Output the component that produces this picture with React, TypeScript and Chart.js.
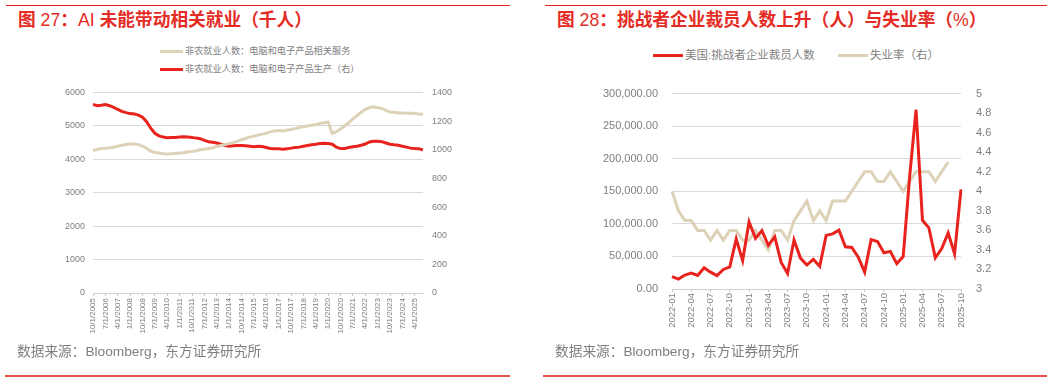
import React, { useEffect, useRef } from 'react';
import { Chart, registerables } from 'chart.js';

Chart.register(...registerables);

const NUM_FONT = "'Liberation Sans', Arial, 'Noto Sans CJK SC', sans-serif";
const CJK_FONT = "'Liberation Sans', 'Noto Sans CJK SC', sans-serif";
const RED = '#e8231e';
const BEIGE = '#ddd2b8';
const GRID = '#d9d9d9';
const TICK = '#7f7f7f';
const TITLE_RED = '#e42c25';

// ---------- Figure 27 ----------
const leftDates = [
  '10/1/2005',
  '1/1/2006', '4/1/2006', '7/1/2006', '10/1/2006',
  '1/1/2007', '4/1/2007', '7/1/2007', '10/1/2007',
  '1/1/2008', '4/1/2008', '7/1/2008', '10/1/2008',
  '1/1/2009', '4/1/2009', '7/1/2009', '10/1/2009',
  '1/1/2010', '4/1/2010', '7/1/2010', '10/1/2010',
  '1/1/2011', '4/1/2011', '7/1/2011', '10/1/2011',
  '1/1/2012', '4/1/2012', '7/1/2012', '10/1/2012',
  '1/1/2013', '4/1/2013', '7/1/2013', '10/1/2013',
  '1/1/2014', '4/1/2014', '7/1/2014', '10/1/2014',
  '1/1/2015', '4/1/2015', '7/1/2015', '10/1/2015',
  '1/1/2016', '4/1/2016', '7/1/2016', '10/1/2016',
  '1/1/2017', '4/1/2017', '7/1/2017', '10/1/2017',
  '1/1/2018', '4/1/2018', '7/1/2018', '10/1/2018',
  '1/1/2019', '4/1/2019', '7/1/2019', '10/1/2019',
  '1/1/2020', '4/1/2020', '7/1/2020', '10/1/2020',
  '1/1/2021', '4/1/2021', '7/1/2021', '10/1/2021',
  '1/1/2022', '4/1/2022', '7/1/2022', '10/1/2022',
  '1/1/2023', '4/1/2023', '7/1/2023', '10/1/2023',
  '1/1/2024', '4/1/2024', '7/1/2024', '10/1/2024',
  '1/1/2025', '4/1/2025', '7/1/2025', '10/1/2025',
];

const computerServices = [
  4263, 4293, 4322, 4332, 4341, 4361, 4390, 4420, 4439, 4458,
  4458, 4439, 4390, 4322, 4244, 4205, 4185, 4166, 4156, 4166,
  4176, 4185, 4195, 4224, 4234, 4254, 4283, 4302, 4322, 4341,
  4380, 4410, 4439, 4468, 4498, 4537, 4585, 4624, 4663, 4693,
  4722, 4751, 4780, 4820, 4849, 4859, 4849, 4868, 4888, 4917,
  4946, 4976, 4995, 5015, 5034, 5073, 5093, 5112, 4780, 4829,
  4907, 4995, 5093, 5210, 5307, 5405, 5493, 5541, 5571, 5541,
  5522, 5463, 5415, 5405, 5385, 5385, 5376, 5376, 5366, 5356,
  5337,
];

const computerManufacturing = [
  1316, 1307, 1311, 1316, 1307, 1295, 1282, 1268, 1259, 1252,
  1250, 1241, 1227, 1195, 1150, 1115, 1097, 1088, 1084, 1086,
  1086, 1088, 1090, 1088, 1086, 1081, 1077, 1065, 1056, 1052,
  1047, 1038, 1029, 1024, 1027, 1029, 1029, 1027, 1024, 1020,
  1024, 1022, 1015, 1008, 1006, 1006, 1004, 1006, 1011, 1015,
  1018, 1024, 1029, 1034, 1038, 1043, 1045, 1043, 1038, 1018,
  1008, 1008, 1015, 1020, 1024, 1031, 1040, 1054, 1059, 1059,
  1056, 1047, 1038, 1034, 1031, 1024, 1018, 1011, 1008, 1006,
  999,
];

const leftSeriesNames = [
  '非农就业人数：电脑和电子产品相关服务',
  '非农就业人数：电脑和电子产品生产（右）',
];

// ---------- Figure 28 ----------
const rightMonths = [
  '2022-01', '2022-02', '2022-03', '2022-04', '2022-05', '2022-06',
  '2022-07', '2022-08', '2022-09', '2022-10', '2022-11', '2022-12',
  '2023-01', '2023-02', '2023-03', '2023-04', '2023-05', '2023-06',
  '2023-07', '2023-08', '2023-09', '2023-10', '2023-11', '2023-12',
  '2024-01', '2024-02', '2024-03', '2024-04', '2024-05', '2024-06',
  '2024-07', '2024-08', '2024-09', '2024-10', '2024-11', '2024-12',
  '2025-01', '2025-02', '2025-03', '2025-04', '2025-05', '2025-06',
  '2025-07', '2025-08', '2025-09', '2025-10',
];

const challengerLayoffs = [
  19064, 15245, 21387, 24286, 20712, 32517, 25810, 20485, 29989, 33843, 76835, 43651,
  102943, 77770, 89703, 66995, 80089, 40709, 23697, 75151, 47457, 36836, 45510, 34817,
  82307, 84638, 90309, 64789, 63816, 48786, 25885, 75891, 72821, 55597, 57727, 38792,
  49795, 172017, 275240, 105441, 93816, 47999, 62075, 85979, 54064, 153074,
];

const unemploymentRate: (number | null)[] = [
  4.0, 3.8, 3.7, 3.7, 3.6, 3.6, 3.5, 3.6, 3.5, 3.6, 3.6, 3.5,
  3.5, 3.6, 3.5, 3.4, 3.6, 3.6, 3.5, 3.7, 3.8, 3.9, 3.7, 3.8,
  3.7, 3.9, 3.9, 3.9, 4.0, 4.1, 4.2, 4.2, 4.1, 4.1, 4.2, 4.1,
  4.0, 4.1, 4.2, 4.2, 4.2, 4.1, 4.2, 4.3, null, null,
];

const rightSeriesNames = ['美国:挑战者企业裁员人数', '失业率（右）'];

const titles = [
  '图 27：AI 未能带动相关就业（千人）',
  '图 28：挑战者企业裁员人数上升（人）与失业率（%）',
];
const sourceText = '数据来源：Bloomberg，东方证券研究所';

function LeftChart() {
  const ref = useRef<HTMLCanvasElement>(null);
  useEffect(() => {
    const chart = new Chart(ref.current as HTMLCanvasElement, {
      type: 'line',
      data: {
        labels: leftDates,
        datasets: [
          {
            label: leftSeriesNames[0],
            data: computerServices,
            borderColor: BEIGE,
            backgroundColor: BEIGE,
            borderWidth: 3,
            pointRadius: 0,
            tension: 0,
            yAxisID: 'y',
          },
          {
            label: leftSeriesNames[1],
            data: computerManufacturing,
            borderColor: RED,
            backgroundColor: RED,
            borderWidth: 3,
            pointRadius: 0,
            tension: 0,
            yAxisID: 'y1',
          },
        ],
      },
      options: {
        animation: false,
        responsive: false,
        devicePixelRatio: 1,
        events: [],
        layout: { padding: { top: 10, left: 0, right: 0, bottom: 0 } },
        plugins: { legend: { display: false }, tooltip: { enabled: false } },
        scales: {
          x: {
            type: 'category',
            offset: false,
            afterFit: (s: any) => { s.height = 55; },
            grid: {
              drawOnChartArea: false,
              drawTicks: true,
              tickLength: 3,
              tickColor: (ctx: any) => (ctx.index % 3 === 0 ? '#c8c8c8' : 'rgba(0,0,0,0)'),
            },
            border: { display: true, color: '#d0d0d0' },
            ticks: {
              autoSkip: false,
              minRotation: 90,
              maxRotation: 90,
              padding: 2,
              color: TICK,
              font: { family: NUM_FONT, size: 8 },
              callback: (_v: any, i: number) => (i % 3 === 0 ? leftDates[i] : ''),
            },
          },
          y: {
            position: 'left',
            min: 0,
            max: 6000,
            afterFit: (s: any) => { s.width = 93; },
            grid: { color: GRID, drawTicks: false },
            border: { display: false },
            ticks: {
              stepSize: 1000,
              padding: 8,
              color: TICK,
              font: { family: NUM_FONT, size: 9 },
              callback: (v: any) => String(v),
            },
          },
          y1: {
            position: 'right',
            min: 0,
            max: 1400,
            afterFit: (s: any) => { s.width = 107; },
            grid: { drawOnChartArea: false, drawTicks: false },
            border: { display: false },
            ticks: {
              stepSize: 200,
              padding: 9,
              color: TICK,
              font: { family: NUM_FONT, size: 9 },
              callback: (v: any) => String(v),
            },
          },
        },
      } as any,
    });
    return () => chart.destroy();
  }, []);
  return (
    <canvas
      ref={ref}
      width={530}
      height={270}
      style={{ position: 'absolute', left: 0, top: 78, width: 530, height: 270 }}
    />
  );
}

function RightChart() {
  const ref = useRef<HTMLCanvasElement>(null);
  useEffect(() => {
    const chart = new Chart(ref.current as HTMLCanvasElement, {
      type: 'line',
      data: {
        labels: rightMonths,
        datasets: [
          {
            label: rightSeriesNames[0],
            data: challengerLayoffs,
            borderColor: RED,
            backgroundColor: RED,
            borderWidth: 3,
            pointRadius: 0,
            tension: 0,
            yAxisID: 'y',
          },
          {
            label: rightSeriesNames[1],
            data: unemploymentRate,
            borderColor: BEIGE,
            backgroundColor: BEIGE,
            borderWidth: 3,
            pointRadius: 0,
            tension: 0,
            yAxisID: 'y1',
          },
        ],
      },
      options: {
        animation: false,
        responsive: false,
        devicePixelRatio: 1,
        events: [],
        layout: { padding: { top: 11, left: 0, right: 0, bottom: 0 } },
        plugins: { legend: { display: false }, tooltip: { enabled: false } },
        scales: {
          x: {
            type: 'category',
            offset: false,
            afterFit: (s: any) => { s.height = 58; },
            grid: {
              drawOnChartArea: false,
              drawTicks: true,
              tickLength: 3,
              tickColor: (ctx: any) => (ctx.index % 3 === 0 ? '#c8c8c8' : 'rgba(0,0,0,0)'),
            },
            border: { display: true, color: '#d0d0d0' },
            ticks: {
              autoSkip: false,
              minRotation: 90,
              maxRotation: 90,
              padding: 1,
              color: TICK,
              font: { family: NUM_FONT, size: 9.5 },
              callback: (_v: any, i: number) => (i % 3 === 0 ? rightMonths[i] : ''),
            },
          },
          y: {
            position: 'left',
            min: 0,
            max: 300000,
            afterFit: (s: any) => { s.width = 142; },
            grid: { color: GRID, drawTicks: false },
            border: { display: false },
            ticks: {
              stepSize: 50000,
              padding: 14,
              color: TICK,
              font: { family: NUM_FONT, size: 11 },
              callback: (v: any) =>
                Number(v).toLocaleString('en-US', { minimumFractionDigits: 2, maximumFractionDigits: 2 }),
            },
          },
          y1: {
            position: 'right',
            min: 3,
            max: 5,
            afterFit: (s: any) => { s.width = 100; },
            grid: { drawOnChartArea: false, drawTicks: false },
            border: { display: false },
            ticks: {
              stepSize: 0.2,
              padding: 15,
              color: TICK,
              font: { family: NUM_FONT, size: 11 },
              callback: (v: any) => String(Number(Number(v).toFixed(1))),
            },
          },
        },
      } as any,
    });
    return () => chart.destroy();
  }, []);
  return (
    <canvas
      ref={ref}
      width={531}
      height={275}
      style={{ position: 'absolute', left: 530, top: 72, width: 531, height: 275 }}
    />
  );
}

function LegendItem(props: { left: number; top: number; color: string; swatch: number; text: string; size: number }) {
  return (
    <div
      style={{
        position: 'absolute',
        left: props.left,
        top: props.top - 8,
        height: 16,
        display: 'flex',
        alignItems: 'center',
        whiteSpace: 'nowrap',
      }}
    >
      <span style={{ display: 'inline-block', width: props.swatch, height: 3, background: props.color }} />
      <span
        style={{
          marginLeft: 2,
          fontSize: props.size,
          color: TICK,
          fontFamily: CJK_FONT,
          lineHeight: '16px',
        }}
      >
        {props.text}
      </span>
    </div>
  );
}

function Title(props: { text: string; left: number }) {
  // Latin letters / digits appear in regular weight, Chinese in bold
  const parts = props.text.split(/([A-Za-z0-9%]+)/).filter((p) => p.length > 0);
  return (
    <div
      style={{
        position: 'absolute',
        left: props.left,
        top: 8,
        fontSize: 17.7,
        color: TITLE_RED,
        fontFamily: CJK_FONT,
        lineHeight: '24px',
        whiteSpace: 'pre',
      }}
    >
      {parts.map((p, i) => (
        <span key={i} style={{ fontWeight: /^[A-Za-z0-9%]+$/.test(p) ? 400 : 700 }}>
          {p}
        </span>
      ))}
    </div>
  );
}

export default function App() {
  const sourceStyle: React.CSSProperties = {
    position: 'absolute',
    top: 343,
    fontSize: 13.7,
    color: TICK,
    fontFamily: CJK_FONT,
    lineHeight: '18px',
    whiteSpace: 'nowrap',
  };
  return (
    <div
      style={{
        position: 'absolute',
        left: 0,
        top: 0,
        width: 1061,
        height: 381,
        background: '#ffffff',
        overflow: 'hidden',
      }}
    >
      <div style={{ position: 'absolute', left: 6, top: 5, width: 504, height: 1, background: RED }} />
      <div style={{ position: 'absolute', left: 545, top: 5, width: 502, height: 1, background: RED }} />
      <Title text={titles[0]} left={18} />
      <Title text={titles[1]} left={557} />

      <LegendItem left={160} top={51} color={BEIGE} swatch={23} text={leftSeriesNames[0]} size={9.2} />
      <LegendItem left={160} top={69} color={RED} swatch={23} text={leftSeriesNames[1]} size={9.2} />
      <LegendItem left={653} top={55} color={RED} swatch={30} text={rightSeriesNames[0]} size={11.5} />
      <LegendItem left={838} top={55} color={BEIGE} swatch={30} text={rightSeriesNames[1]} size={11.5} />

      <LeftChart />
      <RightChart />

      <div style={{ ...sourceStyle, left: 17 }}>{sourceText}</div>
      <div style={{ ...sourceStyle, left: 555 }}>{sourceText}</div>
      <div style={{ position: 'absolute', left: 5, top: 375, width: 505, height: 2, background: '#e5534c' }} />
      <div style={{ position: 'absolute', left: 543, top: 375, width: 504, height: 2, background: '#e5534c' }} />
    </div>
  );
}
